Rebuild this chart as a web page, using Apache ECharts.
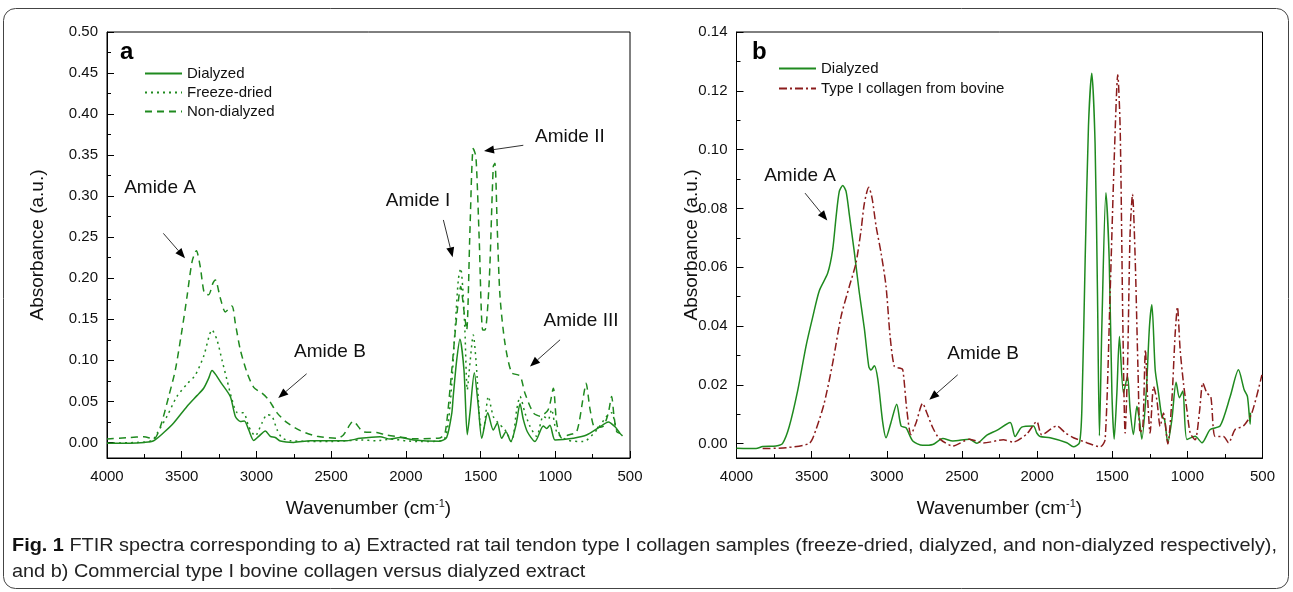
<!DOCTYPE html>
<html>
<head>
<meta charset="utf-8">
<script src="https://cdn.jsdelivr.net/npm/echarts@6/dist/echarts.min.js"></script>
<style>
  html, body { margin: 0; padding: 0; background: #fff; }
  #main { width: 1293px; height: 592px; }
</style>
</head>
<body>
<div id="main"></div>
<script>
// [wavenumber cm-1, absorbance a.u.]
var dialyzedA = [[4000,-0.001],[3850,-0.001],[3750,0.0],[3688,0.002],[3620,0.012],[3554,0.0236],[3465,0.0438],[3398,0.057],[3353,0.066],[3320,0.078],[3297,0.0876],[3270,0.082],[3242,0.074],[3175,0.056],[3141,0.0316],[3108,0.0256],[3081,0.026],[3052,0.0155],[3018,0.0024],[2985,0.0073],[2940,0.0139],[2907,0.0073],[2874,0.006],[2840,0.0016],[2751,0.0],[2640,0.002],[2394,0.002],[2307,0.005],[2173,0.007],[2106,0.004],[2039,0.006],[1950,0.003],[1772,0.0015],[1727,0.006],[1693,0.035],[1683,0.056],[1660,0.10],[1638,0.1258],[1611,0.088],[1589,0.0094],[1571,0.036],[1542,0.085],[1515,0.044],[1492,0.005],[1452,0.036],[1415,0.015],[1388,0.0235],[1359,0.005],[1330,0.013],[1298,0.001],[1262,0.022],[1236,0.047],[1214,0.028],[1187,0.013],[1136,0.001],[1080,0.020],[1058,0.017],[1036,0.021],[1002,0.003],[947,0.0035],[880,0.005],[791,0.009],[701,0.019],[645,0.025],[600,0.019],[567,0.011],[550,0.008]];

var freezeDriedA = [[4000,-0.001],[3800,0.0],[3700,0.002],[3665,0.011],[3598,0.032],[3532,0.056],[3465,0.071],[3409,0.082],[3353,0.105],[3297,0.137],[3264,0.125],[3230,0.10],[3197,0.076],[3163,0.052],[3130,0.0365],[3085,0.036],[3052,0.0195],[3008,0.008],[2963,0.0236],[2929,0.0337],[2896,0.032],[2862,0.0155],[2829,0.0056],[2773,0.002],[2500,0.001],[2300,0.003],[2200,0.002],[2100,0.004],[2000,0.002],[1900,0.001],[1749,0.003],[1705,0.044],[1671,0.137],[1649,0.198],[1633,0.212],[1620,0.19],[1605,0.137],[1589,0.064],[1571,0.0966],[1549,0.131],[1526,0.088],[1504,0.0236],[1482,0.016],[1448,0.056],[1415,0.0316],[1382,0.0236],[1337,0.0155],[1292,0.001],[1258,0.04],[1236,0.056],[1203,0.036],[1169,0.0195],[1125,0.0075],[1080,0.032],[1047,0.028],[1025,0.04],[991,0.013],[924,0.003],[812,0.001],[723,0.015],[656,0.032],[623,0.036],[589,0.015],[567,0.011]];

var nonDialyzedA = [[4000,0.004],[3850,0.006],[3754,0.007],[3688,0.004],[3643,0.019],[3587,0.056],[3543,0.088],[3498,0.137],[3465,0.177],[3431,0.22],[3402,0.2336],[3376,0.214],[3349,0.182],[3320,0.18],[3291,0.194],[3275,0.198],[3242,0.176],[3208,0.159],[3164,0.1663],[3141,0.145],[3108,0.113],[3063,0.085],[3018,0.067],[2963,0.06],[2918,0.052],[2862,0.036],[2795,0.024],[2706,0.0143],[2595,0.0075],[2461,0.005],[2418,0.009],[2352,0.0256],[2285,0.013],[2195,0.012],[2128,0.009],[2039,0.0066],[1950,0.0045],[1772,0.0055],[1738,0.011],[1705,0.064],[1660,0.153],[1633,0.19],[1611,0.16],[1593,0.137],[1571,0.259],[1549,0.358],[1531,0.348],[1509,0.247],[1486,0.137],[1470,0.137],[1442,0.197],[1415,0.336],[1404,0.34],[1388,0.259],[1370,0.178],[1337,0.121],[1292,0.085],[1236,0.081],[1203,0.06],[1147,0.036],[1102,0.032],[1047,0.040],[1013,0.066],[991,0.024],[958,0.0057],[913,0.009],[857,0.013],[812,0.056],[794,0.072],[767,0.04],[734,0.018],[678,0.02],[645,0.036],[623,0.056],[607,0.032],[589,0.013],[567,0.011]];

var dialyzedB = [[4000,-0.0016],[3870,-0.0017],[3826,-0.001],[3737,-0.0008],[3693,0.0001],[3649,0.0058],[3593,0.018],[3538,0.033],[3493,0.043],[3449,0.052],[3393,0.058],[3360,0.066],[3338,0.0768],[3316,0.0858],[3293,0.0878],[3271,0.0858],[3249,0.0778],[3216,0.0651],[3183,0.0514],[3149,0.039],[3120,0.0263],[3105,0.025],[3083,0.0265],[3060,0.022],[3027,0.0072],[3005,0.002],[2972,0.0072],[2934,0.0134],[2905,0.006],[2872,0.0054],[2827,0.0009],[2761,-0.0006],[2694,-0.0003],[2627,0.0017],[2561,0.0009],[2450,0.0015],[2401,0.0001],[2334,0.0029],[2268,0.0045],[2179,0.0072],[2146,0.0024],[2102,0.0056],[2024,0.006],[2002,0.0036],[1980,0.0024],[1913,0.002],[1802,0.0003],[1758,-0.0011],[1718,0.0003],[1702,0.0116],[1680,0.0626],[1658,0.108],[1636,0.126],[1614,0.102],[1598,0.051],[1585,0.0027],[1569,0.0398],[1542,0.0853],[1520,0.0626],[1502,0.0172],[1487,0.0015],[1469,0.0172],[1452,0.0364],[1425,0.0172],[1398,0.0229],[1381,0.0116],[1359,0.0031],[1336,0.0127],[1319,0.0082],[1303,0.0015],[1274,0.0172],[1252,0.0399],[1236,0.0472],[1214,0.0251],[1192,0.0172],[1170,0.0093],[1152,0.0082],[1130,0.0003],[1103,0.0082],[1075,0.0209],[1053,0.0156],[1030,0.0179],[1003,0.0014],[948,0.0025],[903,0.0003],[848,0.0048],[782,0.006],[715,0.016],[660,0.0251],[622,0.0183],[600,0.016],[582,0.0066],[580,0.0105]];

var bovineB = [[3826,-0.0017],[3670,-0.0014],[3515,0.0001],[3471,0.0048],[3416,0.0138],[3360,0.0274],[3304,0.0433],[3249,0.0535],[3205,0.0614],[3171,0.0727],[3149,0.0818],[3120,0.0872],[3098,0.0835],[3071,0.0739],[3038,0.0648],[3005,0.0535],[2978,0.0365],[2950,0.0263],[2916,0.0257],[2894,0.0252],[2867,0.0116],[2839,0.0031],[2805,0.0071],[2761,0.0137],[2734,0.0105],[2694,0.0054],[2650,0.0017],[2561,-0.0008],[2450,0.0015],[2357,0.0002],[2224,0.0013],[2160,0.0005],[2068,0.0033],[2002,0.0075],[1969,0.003],[1869,0.006],[1813,0.0037],[1758,0.002],[1669,0.0003],[1580,-0.0011],[1547,0.0014],[1514,0.051],[1487,0.0963],[1463,0.1255],[1447,0.107],[1429,0.0398],[1414,0.0036],[1398,0.0262],[1381,0.0716],[1365,0.0848],[1347,0.0626],[1329,0.0262],[1314,0.0036],[1296,0.0059],[1279,0.0319],[1265,0.0161],[1248,0.0036],[1225,0.0194],[1203,0.0149],[1181,0.0059],[1159,0.0104],[1130,-0.0001],[1103,0.0149],[1081,0.0375],[1066,0.0465],[1048,0.0319],[1026,0.0206],[1003,0.0115],[981,0.0036],[948,0.0013],[919,0.011],[897,0.0206],[870,0.0172],[844,0.016],[815,0.0024],[760,0.0024],[726,0.0003],[682,0.0048],[627,0.006],[571,0.0104],[504,0.0234]];

// tick labels
var yTicksA = [0,0.05,0.10,0.15,0.20,0.25,0.30,0.35,0.40,0.45,0.50];
var yMinorA = [0.025,0.075,0.125,0.175,0.225,0.275,0.325,0.375,0.425,0.475];
var yTicksB = [0,0.02,0.04,0.06,0.08,0.10,0.12,0.14];
var yMinorB = [0.01,0.03,0.05,0.07,0.09,0.11,0.13];

// annotations: text position and arrow [from, to], in data units
var notesA = [
  {text:'Amide A', at:[3645,0.310], from:[3623,0.2547], to:[3478,0.2243]},
  {text:'Amide B', at:[2508,0.110], from:[2664,0.0836], to:[2854,0.054]},
  {text:'Amide I', at:[1919,0.295], from:[1749,0.271], to:[1687,0.2255]},
  {text:'Amide II', at:[902,0.372], from:[1214,0.362], to:[1477,0.355]},
  {text:'Amide III', at:[828,0.148], from:[968,0.125], to:[1169,0.0925]}
];
var notesB = [
  {text:'Amide A', at:[3577,0.091], from:[3544,0.0852], to:[3396,0.0759]},
  {text:'Amide B', at:[2359,0.0305], from:[2528,0.0234], to:[2717,0.0149]}
];

var GREEN = '#1f8a1f';
var RED = '#8b1c1c';
var FONT = "'Liberation Sans', Arial, Helvetica, sans-serif";

var myChart = echarts.init(document.getElementById('main'));

function xAxisFor(gi) {
  return {
    type: 'value', gridIndex: gi, inverse: true, min: 500, max: 4000, interval: 500,
    name: 'Wavenumber (cm{sup|-1})', nameLocation: 'middle', nameGap: 40, nameMoveOverlap: false,
    nameTextStyle: {fontFamily: FONT, fontSize: 19, color: '#111',
      rich: {sup: {fontSize: 11, verticalAlign: 'top', padding: [0,0,10,0], fontFamily: FONT, color:'#111'}}},
    axisLine: {show: true, onZero: false, lineStyle: {color: '#000', width: 1}},
    axisTick: {inside: true, length: 7, lineStyle: {color: '#000'}},
    minorTick: {show: true, splitNumber: 2, length: 4, lineStyle: {color: '#000'}},
    axisLabel: {fontFamily: FONT, fontSize: 15, color: '#111', margin: 11,
      formatter: function (v) { return String(v); }},
    splitLine: {show: false}
  };
}

function yAxesFor(gi, min, max, ticks, minor, nameGap) {
  var major = {
    type: 'value', gridIndex: gi, min: min, max: max,
    name: 'Absorbance (a.u.)', nameLocation: 'middle', nameGap: nameGap, nameMoveOverlap: false,
    nameTextStyle: {fontFamily: FONT, fontSize: 19, color: '#111'},
    axisLine: {show: true, onZero: false, lineStyle: {color: '#000', width: 1}},
    axisTick: {inside: true, length: 7, customValues: ticks, lineStyle: {color: '#000'}},
    axisLabel: {fontFamily: FONT, fontSize: 15, color: '#111', margin: 9, customValues: ticks,
      formatter: function (v) { return v.toFixed(2); }},
    splitLine: {show: false}
  };
  var small = {
    type: 'value', gridIndex: gi, min: min, max: max, position: 'left',
    axisLine: {show: false},
    axisTick: {inside: true, length: 4, customValues: minor, lineStyle: {color: '#000'}},
    axisLabel: {show: false},
    splitLine: {show: false}
  };
  return [major, small];
}

function line(name, data, xi, yi, color, type) {
  return {
    name: name, type: 'line', xAxisIndex: xi, yAxisIndex: yi, data: data,
    symbol: 'none', showSymbol: false, smooth: 0.25, animation: false,
    lineStyle: {color: color, width: 1.5, type: type},
    itemStyle: {color: color}
  };
}

var yA = yAxesFor(0, -0.019, 0.5, yTicksA, yMinorA, 60);
var yB = yAxesFor(1, -0.0049, 0.14, yTicksB, yMinorB, 35);

option = {
  backgroundColor: '#fff',
  animation: false,
  grid: [
    {left: 107, top: 32, width: 523, height: 426, show: true, borderColor: '#000', borderWidth: 1},
    {left: 736.5, top: 32, width: 526, height: 426, show: true, borderColor: '#000', borderWidth: 1}
  ],
  xAxis: [xAxisFor(0), xAxisFor(1)],
  yAxis: [yA[0], yA[1], yB[0], yB[1]],
  legend: [
    {
      left: 139, top: 61, orient: 'vertical', itemWidth: 37, itemHeight: 14, itemGap: 4,
      itemStyle: {opacity: 0},
      textStyle: {fontFamily: FONT, fontSize: 15, color: '#111'},
      data: ['Dialyzed', 'Freeze-dried', 'Non-dialyzed'], selectedMode: false
    },
    {
      left: 773, top: 56, orient: 'vertical', itemWidth: 37, itemHeight: 14, itemGap: 5,
      itemStyle: {opacity: 0},
      textStyle: {fontFamily: FONT, fontSize: 15, color: '#111'},
      data: ['Dialyzed ', 'Type I collagen from bovine'], selectedMode: false
    }
  ],
  series: [
    line('Dialyzed', dialyzedA, 0, 0, GREEN, 'solid'),
    line('Freeze-dried', freezeDriedA, 0, 0, GREEN, [2, 4]),
    line('Non-dialyzed', nonDialyzedA, 0, 0, GREEN, [7, 5]),
    line('Dialyzed ', dialyzedB, 1, 2, GREEN, 'solid'),
    line('Type I collagen from bovine', bovineB, 1, 2, RED, [8, 3, 2, 3])
  ]
};

myChart.setOption(option);

// annotations placed through the axes
function noteGraphics(notes, xi, yi) {
  var out = [];
  notes.forEach(function (n) {
    var t = myChart.convertToPixel({xAxisIndex: xi, yAxisIndex: yi}, n.at);
    var a = myChart.convertToPixel({xAxisIndex: xi, yAxisIndex: yi}, n.from);
    var b = myChart.convertToPixel({xAxisIndex: xi, yAxisIndex: yi}, n.to);
    out.push({type: 'text', x: t[0], y: t[1],
      style: {text: n.text, fill: '#111', font: '19px ' + FONT, align: 'center', verticalAlign: 'middle'}});
    var ang = Math.atan2(b[1] - a[1], b[0] - a[0]);
    var L = 10, W = 4;
    var bx = b[0] - L * Math.cos(ang), by = b[1] - L * Math.sin(ang);
    out.push({type: 'line', shape: {x1: a[0], y1: a[1], x2: bx, y2: by},
      style: {stroke: '#333', lineWidth: 1}});
    out.push({type: 'polygon', shape: {points: [
      [b[0], b[1]],
      [bx + W * Math.sin(ang), by - W * Math.cos(ang)],
      [bx - W * Math.sin(ang), by + W * Math.cos(ang)]
    ]}, style: {fill: '#000'}});
  });
  return out;
}

// caption squeezed to the reference's condensed width
var capFont = '19px ' + FONT;
var capBold = 'bold 19px ' + FONT;
var capLine1 = ' FTIR spectra corresponding to a) Extracted rat tail tendon type I collagen samples (freeze-dried, dialyzed, and non-dialyzed respectively),';
var capLine2 = 'and b) Commercial type I bovine collagen versus dialyzed extract';
var ctx = document.createElement('canvas').getContext('2d');
ctx.font = capBold; var wB = ctx.measureText('Fig. 1').width;
ctx.font = capFont; var w1 = ctx.measureText(capLine1).width;
var capScale = 1265 / (wB + w1);

var g = [];
g.push({type: 'rect', shape: {x: 3.5, y: 8.5, width: 1285, height: 580, r: 12},
  style: {fill: 'none', stroke: '#444', lineWidth: 1}, z: -1});
g.push({type: 'text', x: 120, y: 40, style: {text: 'a', font: 'bold 24px ' + FONT, fill: '#000'}});
g.push({type: 'text', x: 752, y: 40, style: {text: 'b', font: 'bold 24px ' + FONT, fill: '#000'}});
g = g.concat(noteGraphics(notesA, 0, 0), noteGraphics(notesB, 1, 2));
g.push({type: 'text', x: 12, y: 533, scaleX: capScale, style: {
  text: '{b|Fig. 1}' + capLine1 + '\n' + capLine2,
  font: capFont, fill: '#222', lineHeight: 26,
  rich: {b: {font: capBold, fill: '#111'}}
}});

myChart.setOption({graphic: g});
</script>
</body>
</html>
